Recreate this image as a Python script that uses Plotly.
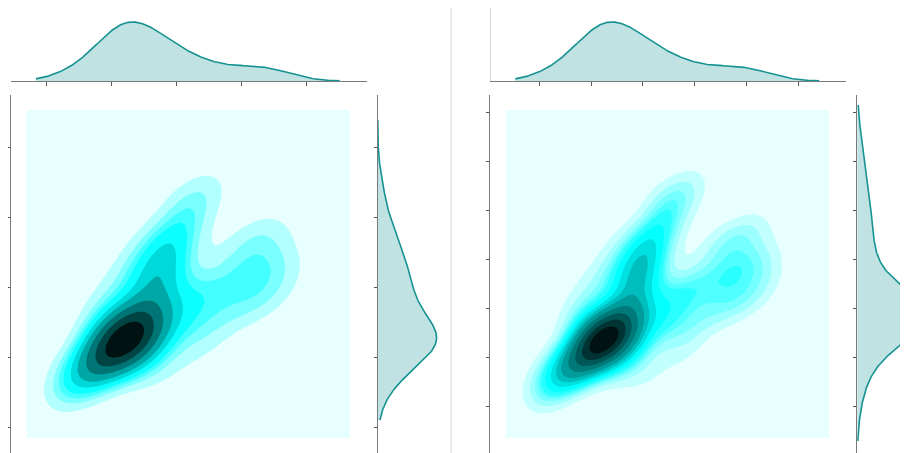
import numpy as np
import plotly.graph_objects as go

# ---------------- data ----------------
# weighted sample points of the bivariate distribution (data units)
SAMPLE_X = [1.20, 0.98, 1.42, 0.74, 0.48, 0.25, 1.63, 1.02, 1.48, 0.55, 0.32, 1.86,
            1.63, 1.71, 1.78, 1.97, 2.22, 2.45, 2.55, 1.17, 1.40, 0.78, 1.02, 2.09,
            2.09, 2.32, 2.48, 2.40,
            2.94, 3.25, 3.55, 3.63, 3.32, 3.02, 3.48, 3.17, 2.86, 2.63, 3.71]
SAMPLE_Y = [1.24, 1.04, 1.44, 0.81, 0.60, 0.41, 1.17, 1.46, 0.89, 0.96, 0.74, 0.67,
            1.74, 2.10, 2.41, 2.74, 3.07, 3.36, 3.53, 2.24, 2.67, 1.67, 1.96, 3.29,
            1.53, 1.89, 1.39, 1.03,
            2.53, 2.74, 2.84, 2.39, 2.31, 2.10, 1.89, 1.74, 1.67, 2.03, 2.10]
SAMPLE_W = [5.0, 2.2, 2.2, 1.2, 0.6, 0.3, 0.8, 0.8, 0.6, 0.5, 0.3, 0.3,
            1.3, 1.5, 1.4, 1.0, 0.6, 0.35, 0.2, 0.3, 0.25, 0.4, 0.3, 0.3,
            0.8, 0.7, 0.5, 0.3,
            0.45, 0.45, 0.3, 0.4, 0.5, 0.5, 0.4, 0.45, 0.35, 0.45, 0.25]

# samples of the right-hand marginal of the second panel
RIGHT_MARG_Y = [1.60, 1.81, 1.31, 2.39, 2.81, 3.24, 3.67, 4.10, 0.81, 0.46]
RIGHT_MARG_W = [4.0, 1.5, 1.5, 0.8, 0.7, 0.6, 0.35, 0.2, 0.5, 0.2]

LEFT_X_TICKS = [0, 1, 2, 3, 4]
LEFT_Y_TICKS = [0, 1, 2, 3, 4]
RIGHT_X_TICKS = [0.2, 1.0, 1.8, 2.6, 3.4, 4.2]
RIGHT_Y_TICKS = [0.3, 1.0, 1.7, 2.4, 3.1, 3.8, 4.5]

LEFT_BANDS = 10
RIGHT_BANDS = 14
BW_LEFT = 0.42
BW_RIGHT = 0.36
KERNEL_CORR = 0.35
BW_MARG = 0.42
BW_RIGHT_MARG = 0.45

# ---------------- layout helpers (screen pixels, page offset 8px) ----------------
W, H = 908, 453
OFF = 8
PX_PER_X = 65.0
PX_PER_Y = 70.0
X0_PX = 44.0     # screen px of x = 0 (left panel)
Y0_PX = 427.0    # screen px of y = 0
PANEL_SHIFT = 481

GRID_X = (-0.32, 4.68)
GRID_Y = (-0.157, 4.53)
MARG_X = (-0.17, 4.52)
MARG_Y = (0.10, 4.39)
MARG_Y2 = (-0.2, 4.6)


def px_x(p):
    return (p - OFF) / W


def px_y(p):
    return 1 - (p - OFF) / H


def xr(a, b, shift=0):
    return [(a - shift - X0_PX) / PX_PER_X, (b - shift - X0_PX) / PX_PER_X]


def yr(top, bottom):
    return [(Y0_PX - bottom) / PX_PER_Y, (Y0_PX - top) / PX_PER_Y]


def kde2d(xs, ys, ws, bw, n=170):
    xs, ys, ws = map(np.asarray, (xs, ys, ws))
    ws = ws / ws.sum()
    c = np.cov(np.vstack([xs, ys]), aweights=ws)
    sx, sy = np.sqrt(c[0, 0]) * bw, np.sqrt(c[1, 1]) * bw
    cov = np.array([[sx * sx, KERNEL_CORR * sx * sy], [KERNEL_CORR * sx * sy, sy * sy]])
    inv = np.linalg.inv(cov)
    norm = 1.0 / (2 * np.pi * np.sqrt(np.linalg.det(cov)))
    gx = np.linspace(*GRID_X, n)
    gy = np.linspace(*GRID_Y, n)
    X, Y = np.meshgrid(gx, gy)
    dx = X[..., None] - xs
    dy = Y[..., None] - ys
    q = inv[0, 0] * dx * dx + 2 * inv[0, 1] * dx * dy + inv[1, 1] * dy * dy
    dens = (ws * norm * np.exp(-0.5 * q)).sum(-1)
    return gx, gy, dens


def kde1d(vals, ws, bw, lim, n=300):
    vals, ws = np.asarray(vals), np.asarray(ws)
    ws = ws / ws.sum()
    m = (vals * ws).sum()
    var = (ws * (vals - m) ** 2).sum() / (1 - (ws ** 2).sum())
    s = np.sqrt(var) * bw
    g = np.linspace(*lim, n)
    d = (ws * np.exp(-0.5 * ((g[:, None] - vals) / s) ** 2)).sum(-1) / (s * np.sqrt(2 * np.pi))
    return g, d


def iso_levels(dens, nb):
    quant = np.linspace(0, 1, nb + 1)
    vals = np.sort(dens.ravel())[::-1]
    cum = np.cumsum(vals) / vals.sum()
    idx = np.searchsorted(cum, 1 - quant)
    lev = np.take(vals, idx, mode="clip")
    lev = np.sort(lev)
    lev[0] = 0.0
    lev[-1] = dens.max() * 1.0001
    return lev


CSCALE = [[0.0, "#e8ffff"], [0.47, "#00ffff"], [1.0, "#001212"]]
LINE = "rgb(22,146,146)"
FILL = "rgba(22,146,146,0.27)"

fig = go.Figure()


def panel(k, bw2d, nb, xt, yt, ymarg=None):
    sh = PANEL_SHIFT * k
    ax = ["", "2", "3"] if k == 0 else ["4", "5", "6"]
    gx, gy, dens = kde2d(SAMPLE_X, SAMPLE_Y, SAMPLE_W, bw2d)
    lev = iso_levels(dens, nb)
    zi = np.interp(dens, lev, np.arange(len(lev)))
    fig.add_trace(go.Contour(
        x=gx, y=gy, z=zi, xaxis="x" + ax[0], yaxis="y" + ax[0],
        contours=dict(start=1, end=nb - 1, size=1, coloring="fill"),
        colorscale=CSCALE, showscale=False, line=dict(width=0),
        hoverinfo="skip"))
    g, d = kde1d(SAMPLE_X, SAMPLE_W, BW_MARG, MARG_X)
    fig.add_trace(go.Scatter(x=g, y=d, mode="lines", fill="tozeroy",
                             fillcolor=FILL, line=dict(color=LINE, width=1.6),
                             xaxis="x" + ax[1], yaxis="y" + ax[1], hoverinfo="skip"))
    dtop = d.max()
    if ymarg is None:
        g2, d2 = kde1d(SAMPLE_Y, SAMPLE_W, BW_MARG, MARG_Y)
        span, peak = 70, 59
    else:
        g2, d2 = kde1d(ymarg[0], ymarg[1], BW_RIGHT_MARG, MARG_Y2)
        span, peak = 60, 68
    fig.add_trace(go.Scatter(x=d2, y=g2, mode="lines", fill="tozerox",
                             fillcolor=FILL, line=dict(color=LINE, width=1.6),
                             xaxis="x" + ax[2], yaxis="y" + ax[2], hoverinfo="skip"))
    left, right = 8 + sh, 365 + sh
    mleft = 376 + sh
    ydom = [0, px_y(95)]
    yrange = yr(95, OFF + H)
    xrange = xr(left, right, sh)
    axl = dict(showgrid=False, zeroline=False, showticklabels=False)
    spine = dict(showline=True, linecolor="#7a7a7a", linewidth=1.3,
                 ticks="outside", tickcolor="#555555", tickwidth=1)
    fig.update_layout(**{
        "xaxis" + ax[0]: dict(domain=[px_x(left), px_x(right)], range=xrange,
                              showline=False, ticks="", anchor="y" + ax[0], **axl),
        "yaxis" + ax[0]: dict(domain=ydom, range=yrange, tickvals=yt, ticklen=3,
                              anchor="x" + ax[0], **spine, **axl),
        "xaxis" + ax[1]: dict(domain=[px_x(left), px_x(right)], range=xrange,
                              tickvals=xt, ticklen=4, anchor="y" + ax[1], **spine, **axl),
        "yaxis" + ax[1]: dict(domain=[px_y(81), px_y(8)], range=[0, dtop * 73 / 59],
                              visible=False, anchor="x" + ax[1]),
        "xaxis" + ax[2]: dict(domain=[px_x(mleft), min(1.0, px_x(mleft + span))],
                              range=[0, d2.max() * span / peak],
                              visible=False, anchor="y" + ax[2]),
        "yaxis" + ax[2]: dict(domain=ydom, range=yrange, tickvals=yt, ticklen=3,
                              anchor="x" + ax[2], **spine, **axl),
    })


panel(0, BW_LEFT, LEFT_BANDS, LEFT_X_TICKS, LEFT_Y_TICKS)
panel(1, BW_RIGHT, RIGHT_BANDS, RIGHT_X_TICKS, RIGHT_Y_TICKS, (RIGHT_MARG_Y, RIGHT_MARG_W))

fig.update_layout(
    width=W, height=H, margin=dict(l=0, r=0, t=0, b=0),
    paper_bgcolor="white", plot_bgcolor="white", showlegend=False,
    shapes=[
        dict(type="line", xref="paper", yref="paper", x0=px_x(449.5), x1=px_x(449.5),
             y0=0, y1=px_y(7), line=dict(color="#d4d4d4", width=1)),
        dict(type="line", xref="paper", yref="paper", x0=px_x(489), x1=px_x(489),
             y0=px_y(81), y1=px_y(7), line=dict(color="#d4d4d4", width=1)),
    ],
)

fig.write_html("out.html")
